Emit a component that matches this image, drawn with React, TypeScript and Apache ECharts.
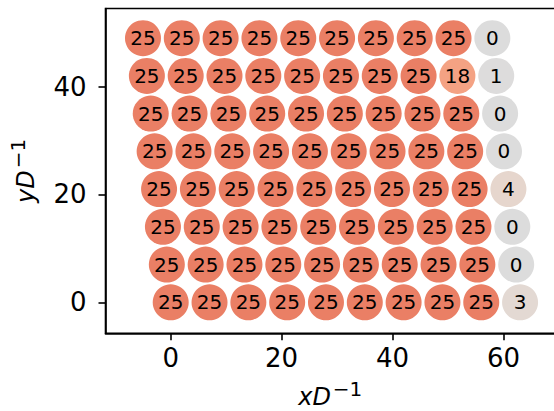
import React, { useEffect, useRef } from "react";
import * as echarts from "echarts";

// Lattice rows (bottom to top): y position, x shift of the row, and labels
const rowY = [0, 7, 14, 21, 28, 35, 42, 49];
const rowShift = [0, -0.7, -1.4, -2.1, -2.9, -3.6, -4.3, -5.0];
const colX = [0, 7, 14, 21, 28, 35, 42, 49, 56, 63];
const rowCounts = [
  [25, 25, 25, 25, 25, 25, 25, 25, 25, 3],
  [25, 25, 25, 25, 25, 25, 25, 25, 25, 0],
  [25, 25, 25, 25, 25, 25, 25, 25, 25, 0],
  [25, 25, 25, 25, 25, 25, 25, 25, 25, 4],
  [25, 25, 25, 25, 25, 25, 25, 25, 25, 0],
  [25, 25, 25, 25, 25, 25, 25, 25, 25, 0],
  [25, 25, 25, 25, 25, 25, 25, 25, 18, 1],
  [25, 25, 25, 25, 25, 25, 25, 25, 25, 0],
];
const xTicks = [0, 20, 40, 60];
const yTicks = [0, 20, 40];

const valueColors: Record<number, string> = {
  25: "#EA7F65",
  18: "#F4A283",
  4: "#E6D6CD",
  3: "#E3D9D3",
  1: "#DDDCDC",
  0: "#DCDCDC",
};

const FONT = "DejaVu Sans";

export default function App() {
  const ref = useRef<HTMLDivElement>(null);
  useEffect(() => {
    if (!ref.current) return;
    const chart = echarts.init(ref.current, undefined, { renderer: "svg" });
    const data: any[] = [];
    rowY.forEach((y, r) => {
      colX.forEach((x, c) => {
        const v = rowCounts[r][c];
        data.push({
          value: [x + rowShift[r], y, v],
          itemStyle: { color: valueColors[v] ?? "#DDDCDC", opacity: 1 },
        });
      });
    });
    const nameRich = {
      it: { fontFamily: FONT, fontSize: 24, fontStyle: "italic", color: "#000", verticalAlign: "bottom", lineHeight: 22 },
      sup: { fontFamily: FONT, fontSize: 20, color: "#000", verticalAlign: "bottom", lineHeight: 18, padding: [0, 0, 10, 2] },
    };
    chart.setOption({
      animation: false,
      backgroundColor: "#fff",
      grid: {
        left: 105.5,
        top: 8.5,
        width: 449.5,
        bottom: 77.7,
        containLabel: false,
        outerBoundsMode: "none",
        show: true,
        borderColor: "#000",
        borderWidth: 1.6,
        backgroundColor: "transparent",
      },
      xAxis: {
        type: "value",
        min: -11.76,
        max: 69.3,
        splitLine: { show: false },
        axisLine: { show: true, onZero: false, lineStyle: { color: "#000", width: 1.6 } },
        axisTick: { show: true, length: 7, customValues: xTicks, lineStyle: { color: "#000", width: 1.6 } },
        axisLabel: { customValues: xTicks, fontFamily: FONT, fontSize: 26, color: "#000", margin: 12 },
        name: "{it|xD}{sup|−1}",
        nameLocation: "middle",
        nameGap: 54,
        nameTextStyle: { rich: nameRich },
      },
      yAxis: {
        type: "value",
        min: -5.75,
        max: 54.5,
        splitLine: { show: false },
        axisLine: { show: true, onZero: false, lineStyle: { color: "#000", width: 1.6 } },
        axisTick: { show: true, length: 7, customValues: yTicks, lineStyle: { color: "#000", width: 1.6 } },
        axisLabel: { customValues: yTicks, fontFamily: FONT, fontSize: 26, color: "#000", margin: 19 },
        name: "{it|yD}{sup|−1}",
        nameLocation: "middle",
        nameGap: 68,
        nameTextStyle: { rich: nameRich },
      },
      series: [
        {
          type: "scatter",
          symbol: "circle",
          symbolSize: 36,
          data,
          itemStyle: { opacity: 1 },
          label: {
            show: true,
            position: "inside",
            formatter: (p: any) => String(p.value[2]),
            fontFamily: FONT,
            fontSize: 20,
            color: "#000",
            textBorderWidth: 0,
          },
          emphasis: { disabled: true },
        },
      ],
    });
    return () => chart.dispose();
  }, []);
  return (
    <div
      ref={ref}
      style={{ position: "fixed", left: 0, top: 0, width: 554, height: 411, background: "#fff" }}
    />
  );
}
